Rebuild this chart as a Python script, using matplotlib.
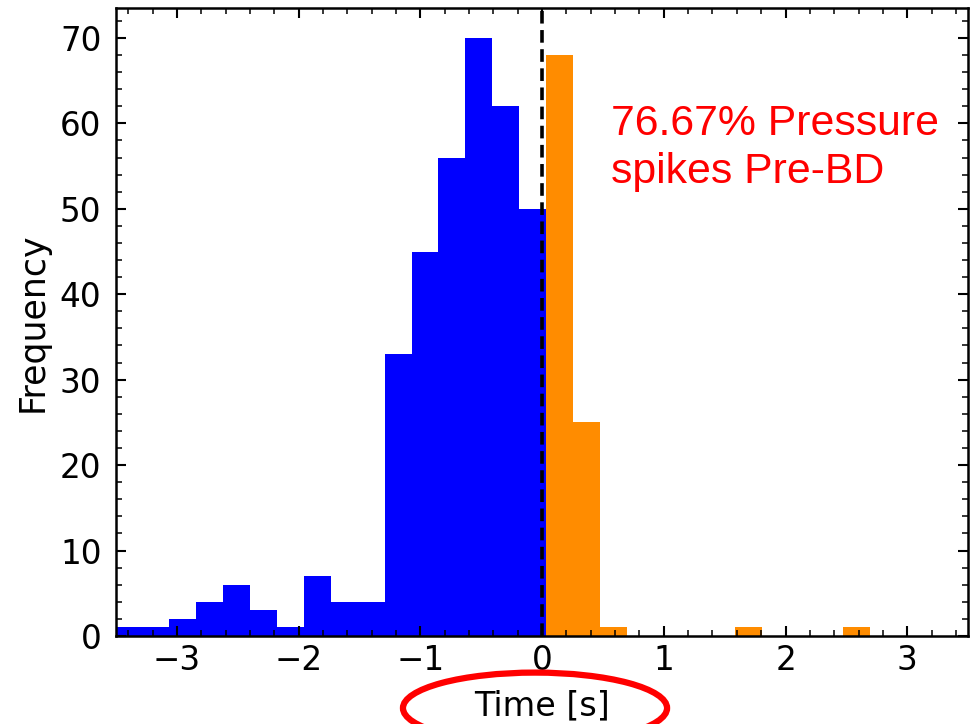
import numpy as np
import matplotlib.pyplot as plt
from matplotlib.patches import Ellipse
from matplotlib.ticker import MultipleLocator

# histogram counts (common bin grid)
bin_start = -3.509
bin_width = 0.2215
pre_counts = [1, 1, 2, 4, 6, 3, 1, 7, 4, 4, 33, 45, 56, 70, 62, 50]
post_counts = [68, 25, 1, 0, 0, 0, 0, 1, 0, 0, 0, 1]
note = "76.67% Pressure\nspikes Pre-BD"

n_pre = len(pre_counts)
edges = bin_start + bin_width * np.arange(n_pre + len(post_counts) + 1)

fig = plt.figure(figsize=(9.71, 7.24), dpi=100)
ax = fig.add_axes([0.1195, 0.1215, 0.8775, 0.8675])

ax.bar(edges[:n_pre], pre_counts, width=bin_width, align='edge',
       color='#0000ff', linewidth=0)
ax.bar(edges[n_pre:-1], post_counts, width=bin_width, align='edge',
       color='#ff8c00', linewidth=0)
ax.axvline(0, color='black', linestyle=(0, (3.5, 1.8)), linewidth=2.6)

ax.set_xlim(-3.5, 3.5)
ax.set_ylim(0, 73.5)
ax.xaxis.set_major_locator(MultipleLocator(1))
ax.xaxis.set_minor_locator(MultipleLocator(0.2))
ax.yaxis.set_major_locator(MultipleLocator(10))
ax.yaxis.set_minor_locator(MultipleLocator(2))
ax.tick_params(which='both', direction='in', top=True, right=True)
ax.tick_params(which='major', length=7, width=1.5, labelsize=23.5)
ax.tick_params(which='minor', length=4, width=1.1)
ax.tick_params(axis='y', which='major', pad=10.5)
ax.tick_params(axis='x', which='major', pad=6)
for s in ax.spines.values():
    s.set_linewidth(1.8)

ax.set_xlabel("Time [s]", fontsize=24, labelpad=8.5)
ax.set_ylabel("Frequency", fontsize=25, labelpad=7)

ax.text(0.581, 0.721, note, transform=ax.transAxes, color='red',
        fontsize=30.8, family='Liberation Sans', va='baseline',
        linespacing=1.27)

ell = Ellipse((0.551, 0.022), 0.272, 0.098, transform=fig.transFigure,
              fill=False, edgecolor='red', linewidth=4.5, clip_on=False)
fig.add_artist(ell)

fig.savefig("out.png", dpi=100)
